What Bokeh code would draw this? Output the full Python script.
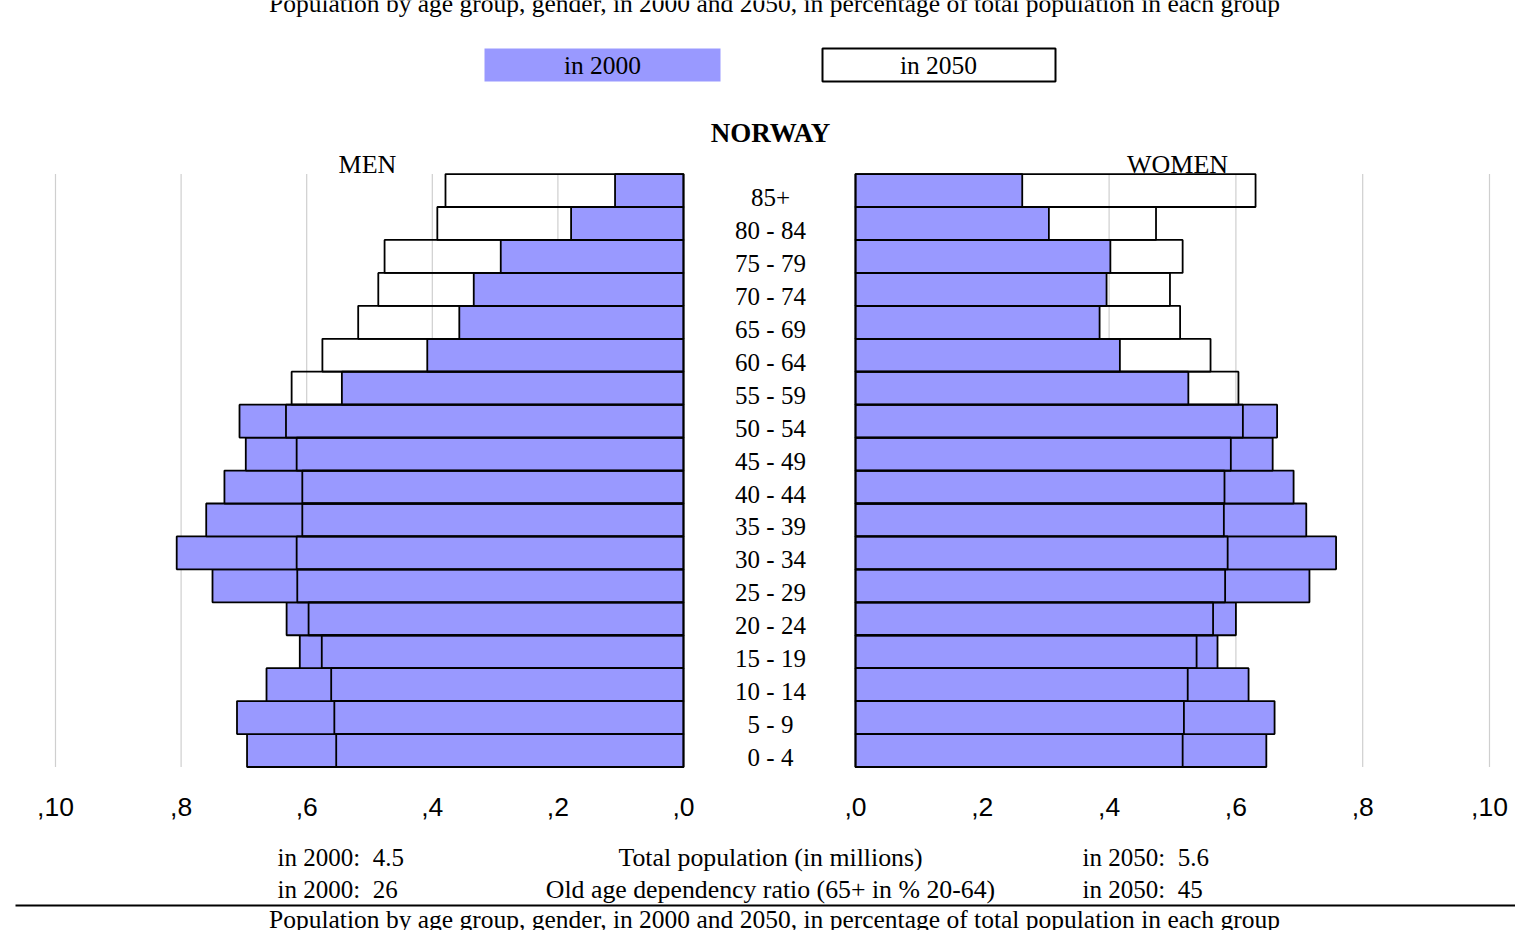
from bokeh.plotting import figure
from bokeh.models import Range1d, ColumnDataSource
from bokeh.core.properties import value
from bokeh.embed import file_html
from bokeh.resources import INLINE

# ---------------- data ----------------
ages = ["0 - 4", "5 - 9", "10 - 14", "15 - 19", "20 - 24", "25 - 29", "30 - 34",
        "35 - 39", "40 - 44", "45 - 49", "50 - 54", "55 - 59", "60 - 64",
        "65 - 69", "70 - 74", "75 - 79", "80 - 84", "85+"]

men_2000 = [0.695, 0.711, 0.664, 0.611, 0.632, 0.750, 0.807, 0.760, 0.731,
            0.697, 0.707, 0.544, 0.408, 0.357, 0.334, 0.291, 0.179, 0.109]
men_2050 = [0.553, 0.556, 0.561, 0.576, 0.597, 0.615, 0.616, 0.607, 0.607,
            0.616, 0.633, 0.624, 0.575, 0.518, 0.486, 0.476, 0.392, 0.379]
women_2000 = [0.648, 0.661, 0.620, 0.571, 0.600, 0.716, 0.758, 0.711, 0.691,
              0.658, 0.665, 0.525, 0.417, 0.385, 0.396, 0.402, 0.305, 0.263]
women_2050 = [0.516, 0.518, 0.524, 0.538, 0.564, 0.583, 0.587, 0.581, 0.582,
              0.592, 0.611, 0.604, 0.560, 0.512, 0.496, 0.516, 0.474, 0.631]

tick_values = [0.0, 0.2, 0.4, 0.6, 0.8, 1.0]
tick_labels = [",0", ",2", ",4", ",6", ",8", ",10"]

title_text = "Population by age group, gender, in 2000 and 2050, in percentage of total population in each group"
country = "NORWAY"
side_labels = ["MEN", "WOMEN"]
legend_labels = ["in 2000", "in 2050"]
total_pop = [4.5, 5.6]
dependency = [26, 45]
stat_titles = ["Total population (in millions)", "Old age dependency ratio (65+ in % 20-64)"]

BLUE = "#9999FF"
SERIF = value("Liberation Serif")
SANS = value("Liberation Sans")

# ---------------- figure ----------------
p = figure(width=1515, height=930,
           x_range=Range1d(0, 1515), y_range=Range1d(930, 0),
           output_backend="svg", toolbar_location=None,
           x_axis_location=None, y_axis_location=None, min_border=0)
p.grid.visible = False
p.outline_line_color = None
p.background_fill_color = "white"
p.border_fill_color = "white"

p.extra_x_ranges = {"men": Range1d(1.08758, -1.32484),
                    "women": Range1d(-1.34858, 1.04101)}
p.extra_y_ranges = {"rows": Range1d(-5.4636, 22.7696)}

rows = list(range(len(ages)))
src = ColumnDataSource(dict(
    row=rows,
    bottom=[r - 0.5 for r in rows],
    top=[r + 0.5 for r in rows],
    zero=[0.0] * len(rows),
    m00=men_2000, m50=men_2050, w00=women_2000, w50=women_2050,
    age=ages,
))

# grid lines
grid_vals = tick_values[1:]
for side in ("men", "women"):
    p.segment(x0=grid_vals, x1=grid_vals, y0=[-0.5] * len(grid_vals), y1=[17.5] * len(grid_vals),
              x_range_name=side, y_range_name="rows",
              line_color="#CFCFCF", line_width=1.2)

# bars
for side, c00, c50 in (("men", "m00", "m50"), ("women", "w00", "w50")):
    p.quad(left="zero", right=c00, bottom="bottom", top="top", source=src,
           x_range_name=side, y_range_name="rows",
           fill_color=BLUE, line_color="black", line_width=1.8)
    p.quad(left="zero", right=c50, bottom="bottom", top="top", source=src,
           x_range_name=side, y_range_name="rows",
           fill_color=None, line_color="black", line_width=1.8)

# age labels
p.text(x=[770] * len(ages), y=rows, text=ages, y_range_name="rows", y_offset=7,
       text_font=SERIF, text_font_size="25px", text_align="center", text_baseline="middle",
       text_color="black")

# tick labels
for side in ("men", "women"):
    p.text(x=tick_values, y=[806] * len(tick_values), text=tick_labels, x_range_name=side,
           text_font=SANS, text_font_size="26.5px", text_align="center", text_baseline="middle",
           text_color="black")

# titles
p.text(x=[774], y=[3], text=[title_text], text_font=SERIF, text_font_size="25.5px",
       text_align="center", text_baseline="middle", text_color="black")
p.text(x=[774], y=[919], text=[title_text], text_font=SERIF, text_font_size="25.5px",
       text_align="center", text_baseline="middle", text_color="black")
p.text(x=[770], y=[132], text=[country], text_font=SERIF, text_font_size="27px",
       text_font_style="bold", text_align="center", text_baseline="middle", text_color="black")
p.text(x=[367, 1177], y=[164, 164], text=side_labels, text_font=SERIF, text_font_size="26px",
       text_align="center", text_baseline="middle", text_color="black")

# legend boxes
p.quad(left=[484], right=[720], top=[48], bottom=[81], fill_color=BLUE, line_color=None)
p.quad(left=[822], right=[1055], top=[48], bottom=[81], fill_color="white",
       line_color="black", line_width=2)
p.text(x=[602, 938], y=[65, 65], text=legend_labels, text_font=SERIF, text_font_size="25.5px",
       text_align="center", text_baseline="middle", text_color="black")

# bottom statistics
p.text(x=[277, 277], y=[857, 889],
       text=[f"in 2000:\u00a0 {total_pop[0]}", f"in 2000:\u00a0 {dependency[0]}"],
       text_font=SERIF, text_font_size="25px", text_align="left", text_baseline="middle",
       text_color="black")
p.text(x=[770, 770], y=[857, 889], text=stat_titles,
       text_font=SERIF, text_font_size="25.8px", text_align="center", text_baseline="middle",
       text_color="black")
p.text(x=[1082, 1082], y=[857, 889],
       text=[f"in 2050:\u00a0 {total_pop[1]}", f"in 2050:\u00a0 {dependency[1]}"],
       text_font=SERIF, text_font_size="25px", text_align="left", text_baseline="middle",
       text_color="black")

# separator line
p.segment(x0=[15], x1=[1515], y0=[905], y1=[905], line_color="black", line_width=2)

open("out.html", "w").write(file_html(p, INLINE))
